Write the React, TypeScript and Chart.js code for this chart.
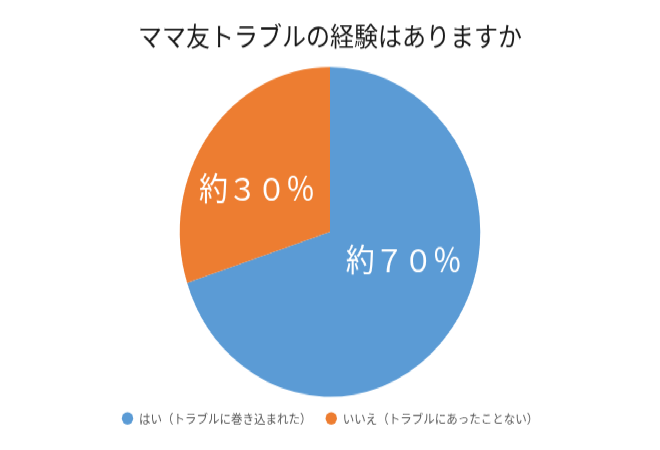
import React, { useEffect, useRef } from "react";
import { Chart, registerables } from "chart.js";

Chart.register(...registerables);

const categories = ["はい（トラブルに巻き込まれた）", "いいえ（トラブルにあったことない）"];
const values = [70, 30];
const valueLabels = ["約７０％", "約３０％"];
const colors = ["#5B9BD5", "#ED7D31"];
const titleText = "ママ友トラブルの経験はありますか";

const FONT = "'Noto Sans CJK JP', 'Noto Sans', sans-serif";

const sliceLabelPlugin = {
  id: "sliceLabels",
  afterDatasetsDraw(chart: any, _args: any, opts: any) {
    const meta = chart.getDatasetMeta(0);
    const ctx = chart.ctx;
    ctx.save();
    ctx.fillStyle = "#ffffff";
    ctx.font = `${opts.fontSize}px ${FONT}`;
    ctx.textAlign = "center";
    ctx.textBaseline = "middle";
    meta.data.forEach((arc: any, i: number) => {
      const { x, y, outerRadius } = arc.getProps(["x", "y", "outerRadius"], true);
      const a = ((opts.angles[i] - 90) * Math.PI) / 180;
      const r = outerRadius * opts.ratios[i];
      ctx.fillText(valueLabels[i], x + r * Math.cos(a), y + r * Math.sin(a));
    });
    ctx.restore();
  },
};

export default function App() {
  const ref = useRef<HTMLCanvasElement | null>(null);
  useEffect(() => {
    if (!ref.current) return;
    const chart = new Chart(ref.current, {
      type: "pie",
      data: {
        labels: categories,
        datasets: [
          {
            data: values,
            backgroundColor: colors,
            borderWidth: 0,
          },
        ],
      },
      options: {
        animation: false,
        responsive: true,
        maintainAspectRatio: false,
        layout: { padding: { top: 0, bottom: 13, left: 0, right: 0 } },
        plugins: {
          title: {
            display: true,
            text: titleText,
            color: "#1a1a1a",
            font: { family: FONT, size: 24, weight: "normal" },
            padding: { top: 18.6, bottom: 13.6 },
          },
          legend: {
            display: true,
            position: "bottom",
            labels: {
              usePointStyle: true,
              pointStyle: "circle",
              boxWidth: 12,
              boxHeight: 8,
              padding: 14,
              color: "#595959",
              font: { family: FONT, size: 11.5 },
            },
          },
          tooltip: { enabled: false },
          sliceLabels: {
            fontSize: 29,
            angles: [109, 298],
            ratios: [0.52, 0.55],
          },
        } as any,
      },
      plugins: [sliceLabelPlugin],
    });
    return () => chart.destroy();
  }, []);

  return (
    <div
      style={{
        position: "fixed",
        left: 0,
        top: 0,
        width: 660,
        height: 410,
        transform: `scaleY(${450 / 410})`,
        transformOrigin: "top left",
        background: "#ffffff",
      }}
    >
      <canvas ref={ref} />
    </div>
  );
}
